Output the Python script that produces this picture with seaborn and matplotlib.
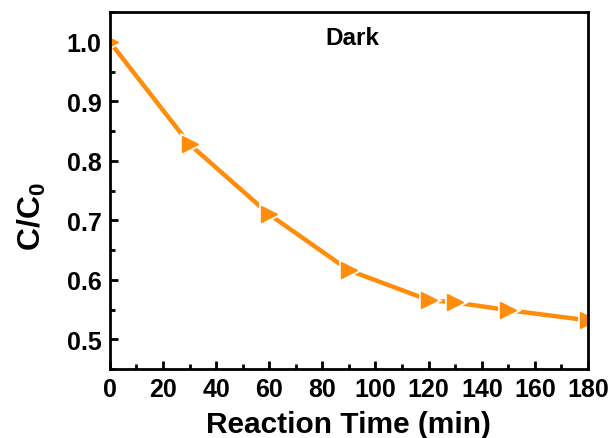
import numpy as np
import pandas as pd
import seaborn as sns
import matplotlib.pyplot as plt
from matplotlib.ticker import MultipleLocator

# values
time_min = [0, 30, 60, 90, 120, 130, 150, 180]
c_ratio = [1.0, 0.828, 0.71, 0.616, 0.566, 0.562, 0.549, 0.532]
series_label = "Dark"

df = pd.DataFrame({"time": time_min, "ratio": c_ratio})

sns.set_style("ticks")
plt.rcParams["font.family"] = ["Liberation Sans", "DejaVu Sans"]
plt.rcParams["font.weight"] = "bold"
plt.rcParams["text.color"] = "black"
plt.rcParams["axes.labelcolor"] = "black"
plt.rcParams["xtick.color"] = "black"
plt.rcParams["ytick.color"] = "black"
plt.rcParams["axes.edgecolor"] = "black"
plt.rcParams["mathtext.fontset"] = "custom"
plt.rcParams["mathtext.bf"] = "Liberation Sans:bold"
plt.rcParams["mathtext.rm"] = "Liberation Sans:bold"

fig, ax = plt.subplots(figsize=(6.1, 4.39), dpi=100)
fig.subplots_adjust(left=0.18, right=0.964, top=0.97, bottom=0.157)

orange = "#FF8C0A"
sns.lineplot(data=df, x="time", y="ratio", ax=ax, color=orange, linewidth=3.2)
# white halo under markers to give the small line gaps
ax.plot(df["time"], df["ratio"], linestyle="none", marker=">", markersize=12,
        markerfacecolor="white", markeredgecolor="white", markeredgewidth=3.5, zorder=3)
ax.plot(df["time"], df["ratio"], linestyle="none", marker=">", markersize=12,
        markerfacecolor=orange, markeredgecolor=orange, zorder=4)

ax.set_xlim(0, 180)
ax.set_ylim(0.45, 1.05)
ax.xaxis.set_major_locator(MultipleLocator(20))
ax.xaxis.set_minor_locator(MultipleLocator(10))
ax.yaxis.set_major_locator(MultipleLocator(0.1))
ax.yaxis.set_minor_locator(MultipleLocator(0.05))
ax.yaxis.set_major_formatter(plt.FormatStrFormatter("%.1f"))

ax.tick_params(which="both", direction="in", width=2, labelsize=18, pad=6)
ax.tick_params(which="major", length=6)
ax.tick_params(which="minor", length=3.5)
for s in ax.spines.values():
    s.set_linewidth(2)
    s.set_visible(True)
    s.set_zorder(5)
for lab in ax.get_xticklabels() + ax.get_yticklabels():
    lab.set_fontweight("bold")

ax.set_xlabel("Reaction Time (min)", fontsize=21.5, fontweight="bold", labelpad=6)
ax.set_ylabel(r"$\mathbf{C/C_0}$", fontsize=23)
ax.yaxis.set_label_coords(-0.13, 0.43)
ax.text(0.508, 0.93, series_label, transform=ax.transAxes, ha="center", va="center",
        fontsize=17.5, fontweight="bold")

fig.savefig("out.png", dpi=100)
